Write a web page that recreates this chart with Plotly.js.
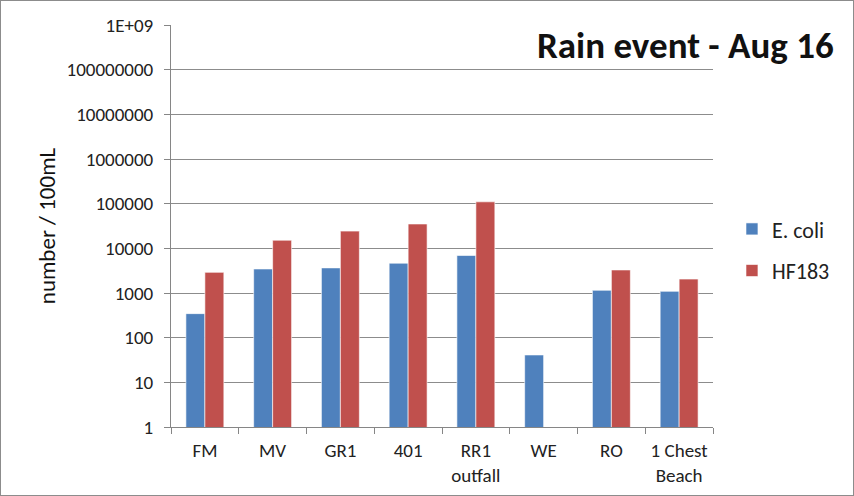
<!DOCTYPE html>
<html>
<head>
<meta charset="utf-8">
<script src="https://cdn.plot.ly/plotly-3.0.1.min.js"></script>
<style>
  html, body { margin: 0; padding: 0; background: #fff; }
  #chart { width: 854px; height: 496px; box-sizing: border-box; border: 1px solid #8c8c8c; }
</style>
</head>
<body>
<div id="chart"></div>
<script>
// Sampling sites
const sites = ["FM", "MV", "GR1", "401", "RR1<br>outfall", "WE", "RO", "1 Chest<br>Beach"];

// Counts per 100 mL
const ecoli = [345, 3450, 3650, 4650, 6900, 41, 1150, 1090];
const hf183 = [2900, 15200, 24300, 35100, 110000, null, 3280, 2050];

// Log-axis tick values and their labels
const yTickVals = [1, 10, 100, 1000, 10000, 100000, 1000000, 10000000, 100000000, 1000000000];
const yTickText = ["1", "10", "100", "1000", "10000", "100000", "1000000", "10000000", "100000000", "1E+09"];

const font = "Calibri, Carlito, 'Open Sans', 'Liberation Sans', sans-serif";

const traces = [
  {
    type: "bar", name: "E. coli", x: sites, y: ecoli, legendgroup: "a",
    marker: { color: "#4F81BD", line: { color: "rgba(255,255,255,0.6)", width: 1 } }
  },
  {
    type: "bar", name: "HF183", x: sites, y: hf183, legendgroup: "b",
    marker: { color: "#C0504D", line: { color: "rgba(255,255,255,0.6)", width: 1 } }
  }
];

const layout = {
  width: 852, height: 494,
  margin: { l: 170, r: 140, t: 24, b: 68 },
  paper_bgcolor: "#fff", plot_bgcolor: "#fff",
  font: { family: font, color: "#222" },
  barmode: "group",
  bargap: 0.44,
  bargroupgap: 0,
  showlegend: true,
  legend: {
    x: 1.035, y: 0.44, xanchor: "left", yanchor: "middle",
    font: { size: 22, color: "#222" },
    tracegroupgap: 10, itemwidth: 30
  },
  xaxis: {
    type: "category",
    showline: true, linecolor: "#868686", linewidth: 1,
    ticks: "outside", ticklen: 6, tickcolor: "#868686",
    tickson: "boundaries",
    ticklabelstandoff: 6,
    tickfont: { size: 19, color: "#222" },
    showgrid: false
  },
  yaxis: {
    type: "log",
    range: [0, 9],
    tickvals: yTickVals, ticktext: yTickText,
    showline: true, linecolor: "#868686", linewidth: 1,
    ticks: "outside", ticklen: 6, tickcolor: "#868686",
    ticklabelstandoff: 7,
    showgrid: true, gridcolor: "#8c8c8c", gridwidth: 1,
    tickfont: { size: 19, color: "#222" },
    title: { text: "number / 100mL", font: { size: 23, color: "#111" }, standoff: 4 },
    automargin: false
  },
  annotations: [
    {
      text: "<b>Rain event - Aug 16</b>",
      xref: "paper", yref: "paper", x: 1.227, y: 0.948,
      xanchor: "right", yanchor: "middle", showarrow: false,
      font: { size: 37, color: "#111", family: font }
    }
  ]
};

Plotly.newPlot("chart", traces, layout, { displayModeBar: false, staticPlot: true });
</script>
</body>
</html>
